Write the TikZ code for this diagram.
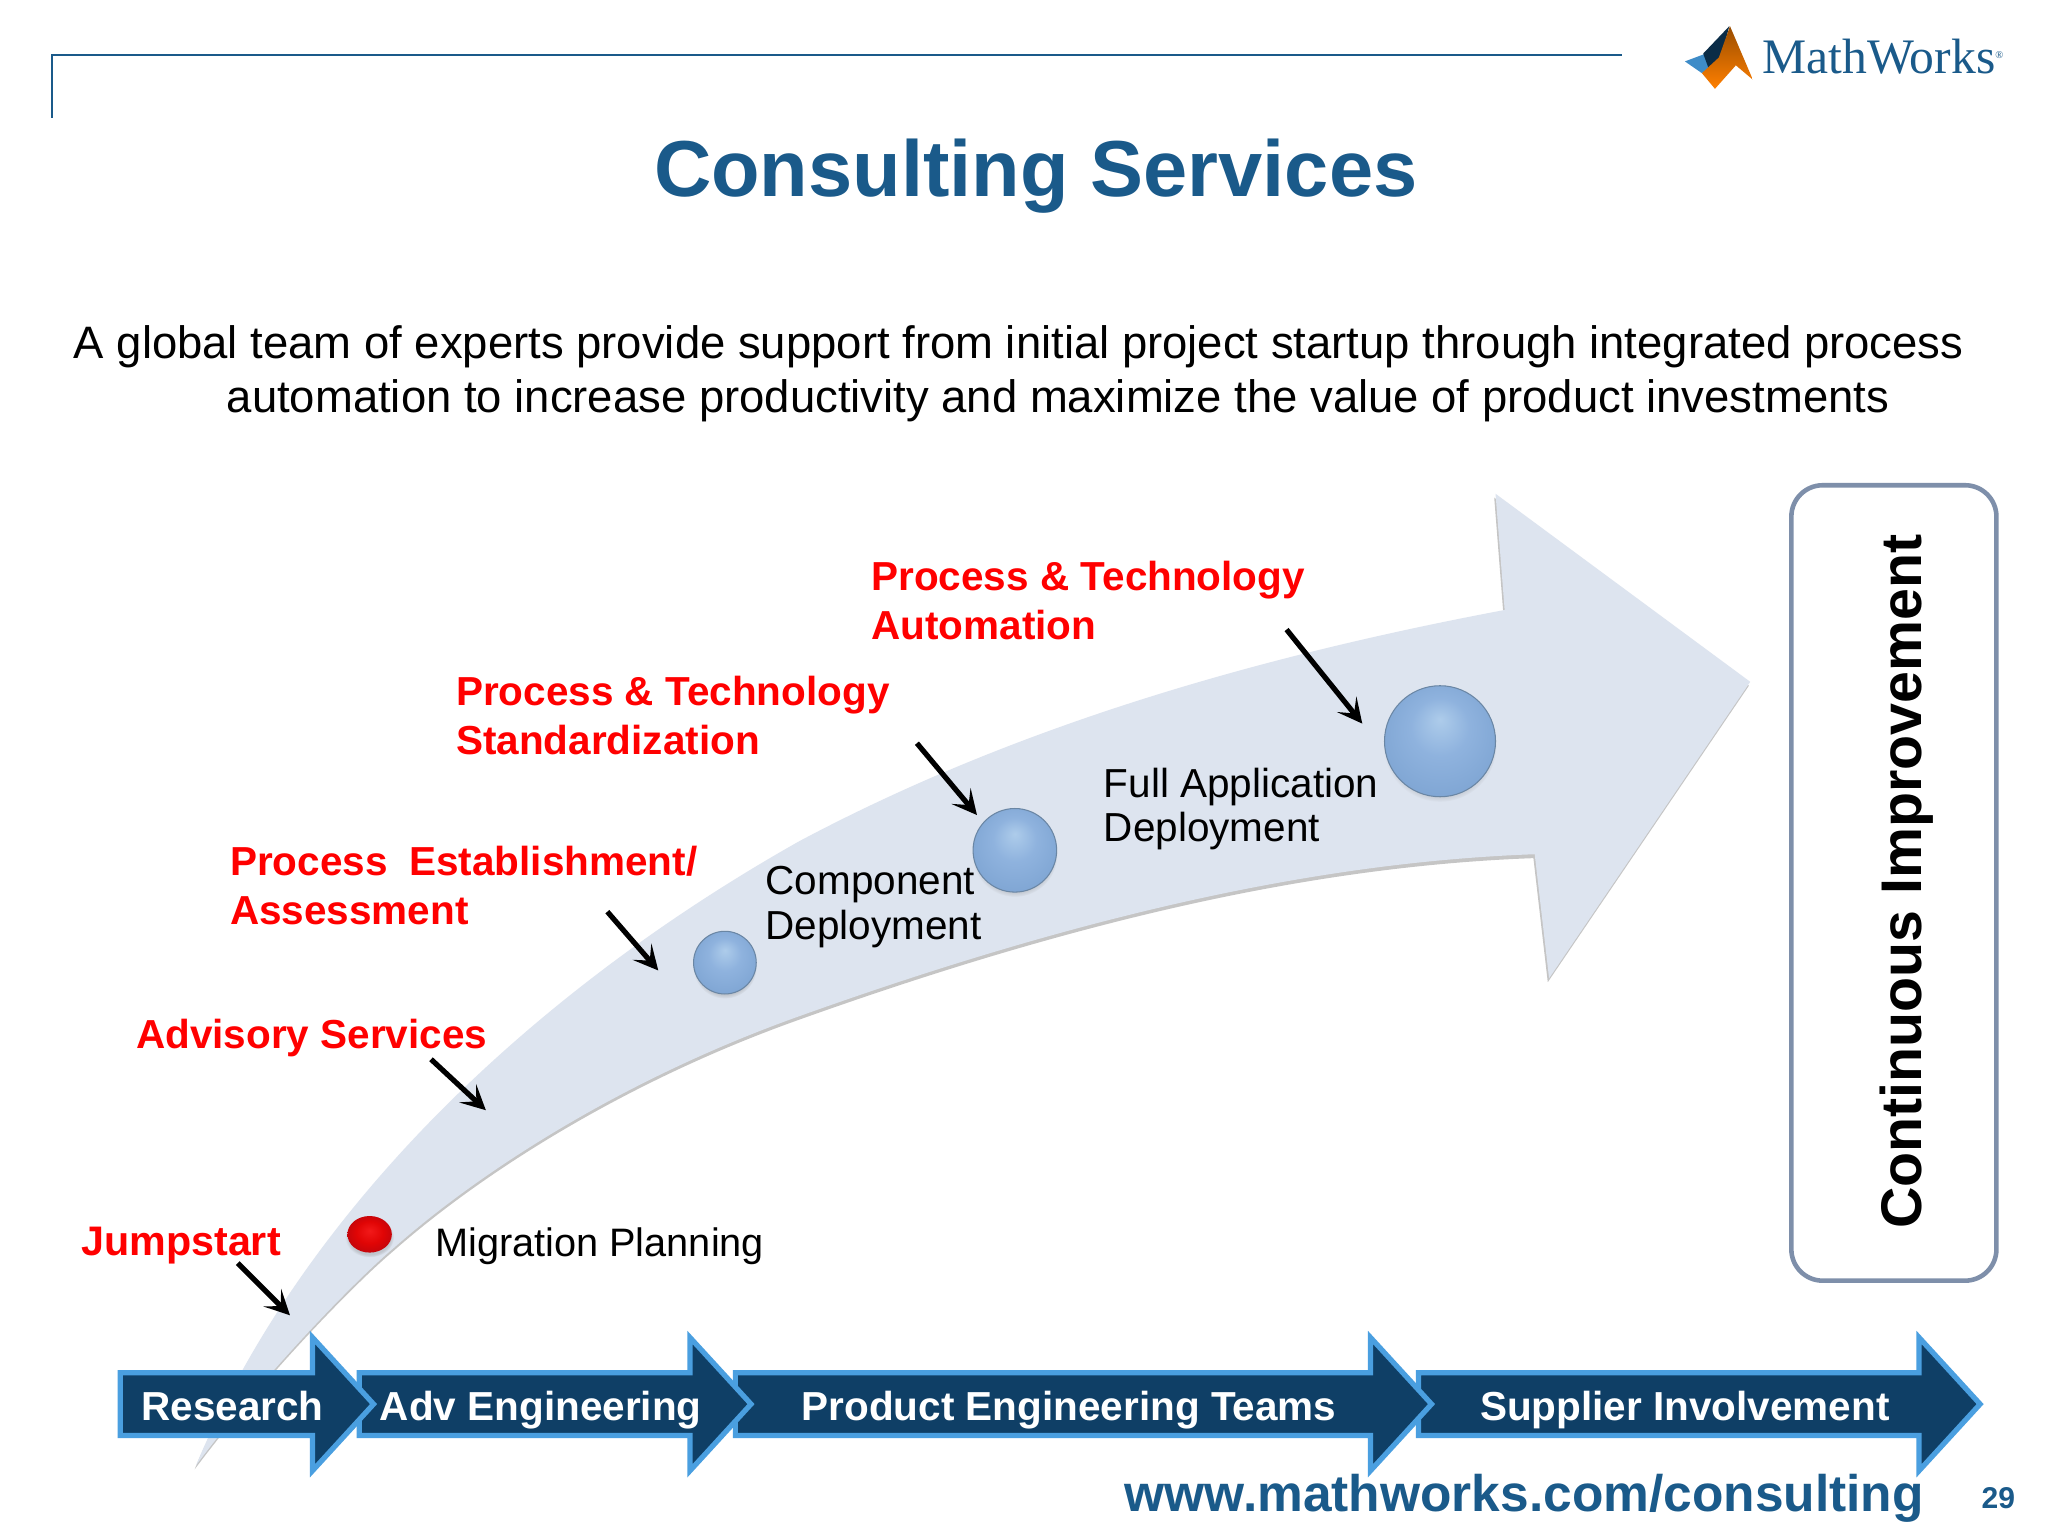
\documentclass[tikz,border=0pt]{standalone}
\usepackage{fontspec}
\setmainfont{Liberation Sans}
\newfontfamily\logofont{Liberation Serif}
\usetikzlibrary{arrows,arrows.meta,shapes,shapes.arrows,positioning,shadows}
\definecolor{titleblue}{HTML}{1A5A8A}
\definecolor{bandblue}{HTML}{0F3F66}
\definecolor{edgeblue}{HTML}{4A9FE0}
\definecolor{sweep}{HTML}{DDE4EF}
\definecolor{boxedge}{HTML}{7E8FAA}
\definecolor{ballrim}{HTML}{6A86A4}
\pgfdeclareradialshading{blueball}{\pgfpoint{0bp}{10bp}}{
rgb(0bp)=(0.68,0.80,0.92);
rgb(13bp)=(0.56,0.70,0.87);
rgb(28bp)=(0.50,0.65,0.83);
rgb(33bp)=(0.42,0.57,0.73);
rgb(36bp)=(0.36,0.47,0.60)}
\pgfdeclareradialshading{redball}{\pgfpoint{0bp}{5bp}}{
rgb(0bp)=(0.95,0.10,0.10);
rgb(15bp)=(0.88,0.02,0.02);
rgb(25bp)=(0.78,0.02,0.04);
rgb(32bp)=(0.55,0.05,0.08)}

\begin{document}
\begin{tikzpicture}[x=1pt,y=-1pt,->,>=stealth',font=\fontsize{32}{38}\selectfont]

\tikzstyle{redlabel}=[text=red,font=\fontsize{31}{37.5}\selectfont\bfseries,align=left,inner sep=0pt,anchor=west]
\tikzstyle{steplabel}=[text=black,font=\fontsize{31}{34}\selectfont,align=left,inner sep=0pt,anchor=west]
\tikzstyle{stepball}=[circle,draw=ballrim,line width=0.8pt,inner sep=0pt,shading=blueball,circular drop shadow={shadow xshift=0pt,shadow yshift=-3pt,shadow scale=1.02,opacity=0.35}]
\tikzstyle{phase}=[single arrow,draw=edgeblue,fill=bandblue,line width=4pt,text=white,
font=\fontsize{31}{37}\selectfont\bfseries,single arrow head extend=27pt,single arrow tip angle=95,
text height=27pt,text depth=2pt,inner xsep=0pt,inner ysep=7.5pt,anchor=west]
\tikzstyle{pointer}=[-{Stealth[length=19pt,width=19pt,inset=9pt]},black,line width=4pt]

\useasboundingbox (0,0) rectangle (1568,1176);
\fill[white] (0,0) rectangle (1568,1176);

%header
\coordinate (ruleA) at (40,90);
\coordinate (ruleB) at (40,42);
\coordinate (ruleC) at (1242,42);
\draw[-,titleblue,line width=1.6pt] (ruleA) -- (ruleB) -- (ruleC);

\fill[edgeblue!80!bandblue] (1290,47) -- (1306,41) -- (1313,50) -- (1303,56) -- cycle;
\fill[bandblue!70!black] (1304,41) -- (1324,20) -- (1316,50) -- (1308,52) -- cycle;
\shade[top color=orange!60!black,bottom color=orange] (1324.5,20) -- (1342,61) -- (1329,50) -- (1313,68) -- (1303,56) -- (1316,44) -- cycle;

\node[text=titleblue,font=\logofont\fontsize{38}{40}\selectfont,inner sep=0pt,anchor=base west]
(logo) at (1349,56)
{MathWorks\raisebox{11pt}{\fontsize{8}{8}\selectfont®}};

\node[text=titleblue,font=\fontsize{60.8}{66}\selectfont\bfseries,inner sep=0pt]
(title) at (793,135)
{Consulting Services};

\node[text=black,font=\fontsize{34.8}{41}\selectfont,align=center,inner sep=0pt]
(intro) at (780,286)
{A global team of experts provide support from initial project startup through integrated process\\
\hspace*{60pt}automation to increase productivity and maximize the value of product investments};

%big arrow
\path[-,fill=sweep,draw=none,drop shadow={shadow xshift=-1pt,shadow yshift=-3pt,opacity=0.45}]
(150,1122) .. controls (235,920) and (415,755) .. (612,644)
.. controls (770,560) and (950,505) .. (1152,467)
-- (1145,378) -- (1340,522) -- (1186,749) -- (1175,654)
.. controls (1010,660) and (830,700) .. (612,778)
.. controls (480,825) and (370,895) .. (302,955)
.. controls (270,982) and (200,1055) .. (150,1122) -- cycle;

%steps
\node[ellipse,inner sep=0pt,minimum width=34pt,minimum height=28pt,shading=redball,circular drop shadow={shadow xshift=0pt,shadow yshift=-2pt,opacity=0.3}]
(b1) at (283,945)
{};

\node[stepball,minimum size=48pt]
(b2) at (555,737)
{};

\node[stepball,minimum size=64pt]
(b3) at (777,651)
{};

\node[stepball,minimum size=85pt]
(b4) at (1102.5,567.5)
{};

\node[steplabel,font=\fontsize{30.4}{34}\selectfont]
(l1) at (333,954)
{Migration Planning};

\node[steplabel]
(l2) at (586,694.5)
{Component\\Deployment};

\node[steplabel]
(l3) at (845,619.5)
{Full Application\\Deployment};

\node[redlabel,font=\fontsize{31.6}{37.5}\selectfont\bfseries]
(r1) at (62,954)
{Jumpstart};

\node[redlabel]
(r2) at (104,795)
{Advisory Services};

\node[redlabel]
(r3) at (176,678)
{Process\hspace{8pt} Establishment/\\Assessment};

\node[redlabel]
(r4) at (349,548)
{Process \& Technology\\Standardization};

\node[redlabel]
(r5) at (667,460)
{Process \& Technology\\Automation};

\coordinate (p1a) at (182,967);
\coordinate (p1b) at (222,1007);
\coordinate (p2a) at (330,811);
\coordinate (p2b) at (372,850);
\coordinate (p3a) at (465,698);
\coordinate (p3b) at (504,743);
\coordinate (p4a) at (702,569);
\coordinate (p4b) at (748,624);
\coordinate (p5a) at (985,482);
\coordinate (p5b) at (1043,554);

\path[pointer] (p1a) edge (p1b);
\path[pointer] (p2a) edge (p2b);
\path[pointer] (p3a) edge (p3b);
\path[pointer] (p4a) edge (p4b);
\path[pointer] (p5a) edge (p5b);

%phases
\node[phase,minimum height=430pt]
(s4) at (1084,1075)
{Supplier Involvement};

\node[phase,minimum height=533pt]
(s3) at (561,1075)
{Product Engineering Teams};

\node[phase,minimum height=300pt]
(s2) at (273,1075)
{Adv Engineering};

\node[phase,minimum height=194pt]
(s1) at (90,1075)
{Research};

%right box
\node[rectangle,rounded corners=24pt,draw=boxedge,line width=3.5pt,fill=white,minimum width=157pt,minimum height=609pt]
(cibox) at (1450,676)
{};

\node[rotate=90,text=black,font=\fontsize{43.9}{46}\selectfont\bfseries,inner sep=0pt]
(ci) at (1460,675)
{Continuous Improvement};

%footer
\node[text=titleblue,font=\fontsize{39.4}{42}\selectfont\bfseries,inner sep=0pt]
(url) at (1167,1147)
{www.mathworks.com/consulting};

\node[text=titleblue,font=\fontsize{23}{24}\selectfont\bfseries,inner sep=0pt]
(page) at (1530,1147)
{29};

\end{tikzpicture}
\end{document}
